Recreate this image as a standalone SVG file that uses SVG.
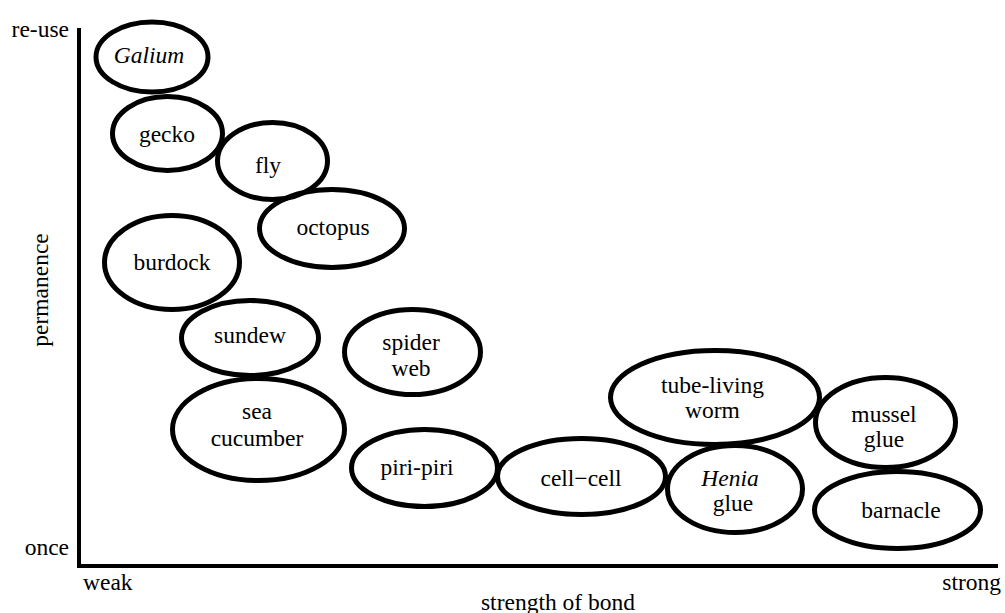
<svg xmlns="http://www.w3.org/2000/svg" width="1005" height="613" viewBox="0 0 1005 613" font-family="'Liberation Serif', 'Times New Roman', Times, 'DejaVu Serif', serif">
<style>
text{font-family:'Liberation Serif','Times New Roman',Times,'DejaVu Serif',serif;font-size:23.5px;fill:#000}
.c{text-anchor:middle}
.e{text-anchor:end}
.i{font-style:italic}
ellipse{fill:none;stroke:#000;stroke-width:5}
.ax{stroke:#000;stroke-width:4;fill:none}
</style>
<rect width="1005" height="613" fill="#fff"/>
<g id="axes">
<polyline class="ax" points="79,28 79,566 998,566"/>
<text class="e" x="69" y="37">re-use</text>
<text class="e" x="69" y="555">once</text>
<text x="83" y="590">weak</text>
<text class="e" x="1001" y="590">strong</text>
<text class="c" x="558" y="610">strength of bond</text>
<text class="c" transform="translate(48,290) rotate(-90)">permanence</text>
</g>
<g id="galium"><ellipse cx="152" cy="57" rx="56" ry="35"/><text class="c i" x="149" y="63">Galium</text></g>
<g id="gecko"><ellipse cx="167.5" cy="133.5" rx="55" ry="37"/><text class="c" x="167" y="142">gecko</text></g>
<g id="fly"><ellipse cx="272.5" cy="161" rx="55" ry="38.5"/><text class="c" x="268" y="173">fly</text></g>
<g id="octopus"><ellipse cx="332" cy="228.5" rx="72.5" ry="39"/><text class="c" x="333" y="235">octopus</text></g>
<g id="burdock"><ellipse cx="172" cy="262.5" rx="67.5" ry="47"/><text class="c" x="172" y="270">burdock</text></g>
<g id="sundew"><ellipse cx="250" cy="338" rx="68.5" ry="37.5"/><text class="c" x="250" y="343">sundew</text></g>
<g id="spider-web"><ellipse cx="412.5" cy="352" rx="68" ry="42.5"/><text class="c" x="411" y="350">spider</text><text class="c" x="411" y="376">web</text></g>
<g id="sea-cucumber"><ellipse cx="258.5" cy="429.5" rx="86" ry="51"/><text class="c" x="257" y="419">sea</text><text class="c" x="257" y="446">cucumber</text></g>
<g id="piri-piri"><ellipse cx="424.5" cy="468" rx="73" ry="38.5"/><text class="c" x="417" y="475">piri-piri</text></g>
<g id="cell-cell"><ellipse cx="581.5" cy="476.5" rx="84" ry="38"/><text class="c" x="581" y="486">cell−cell</text></g>
<g id="henia-glue"><ellipse cx="735" cy="489" rx="67.5" ry="43.5"/><text class="c i" x="730" y="486">Henia</text><text class="c" x="733" y="511">glue</text></g>
<g id="tube-living-worm"><ellipse cx="715" cy="397.5" rx="104.5" ry="47"/><text class="c" x="712.5" y="393">tube-living</text><text class="c" x="712.5" y="418">worm</text></g>
<g id="mussel-glue"><ellipse cx="885.5" cy="422.5" rx="70" ry="45"/><text class="c" x="884" y="422">mussel</text><text class="c" x="884" y="447">glue</text></g>
<g id="barnacle"><ellipse cx="897.5" cy="510" rx="83" ry="38.5"/><text class="c" x="901" y="518">barnacle</text></g>
<g id="connectors"/>
</svg>
